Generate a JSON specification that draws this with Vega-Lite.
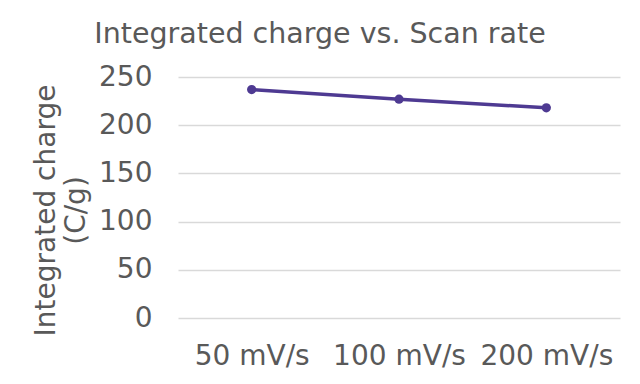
{
  "$schema": "https://vega.github.io/schema/vega-lite/v6.json",
  "autosize": "none",
  "width": 442,
  "height": 241,
  "padding": {"left": 178, "top": 77, "right": 20, "bottom": 66},
  "background": "white",
  "config": {
    "view": {"stroke": null},
    "font": "DejaVu Sans"
  },
  "title": {
    "text": "Integrated charge vs. Scan rate",
    "fontSize": 28.5,
    "fontWeight": "normal",
    "color": "#595959",
    "anchor": "middle",
    "dx": -79,
    "offset": 15
  },
  "data": {
    "values": [
      {"rate": "50 mV/s", "charge": 237},
      {"rate": "100 mV/s", "charge": 227},
      {"rate": "200 mV/s", "charge": 218}
    ]
  },
  "encoding": {
    "x": {
      "field": "rate",
      "type": "nominal",
      "sort": null,
      "axis": {
        "title": null,
        "labelAngle": 0,
        "labelFontSize": 28,
        "labelColor": "#595959",
        "labelPadding": 24,
        "labelOverlap": false,
        "labelBound": false,
        "ticks": false,
        "domain": false
      }
    },
    "y": {
      "field": "charge",
      "type": "quantitative",
      "scale": {"domain": [0, 250]},
      "axis": {
        "values": [0, 50, 100, 150, 200, 250],
        "title": ["Integrated charge", "(C/g)"],
        "titleFontSize": 28,
        "titleFontWeight": "normal",
        "titleColor": "#595959",
        "titlePadding": 8,
        "titleLineHeight": 30,
        "titleY": 133,
        "labelFontSize": 28,
        "labelColor": "#595959",
        "labelPadding": 26,
        "ticks": false,
        "domain": false,
        "grid": true,
        "gridColor": "#d9d9d9",
        "gridWidth": 1.5
      }
    }
  },
  "layer": [
    {"mark": {"type": "line", "color": "#4E3A92", "strokeWidth": 3.5}},
    {"mark": {"type": "point", "filled": true, "color": "#4E3A92", "opacity": 1, "size": 85}}
  ]
}
